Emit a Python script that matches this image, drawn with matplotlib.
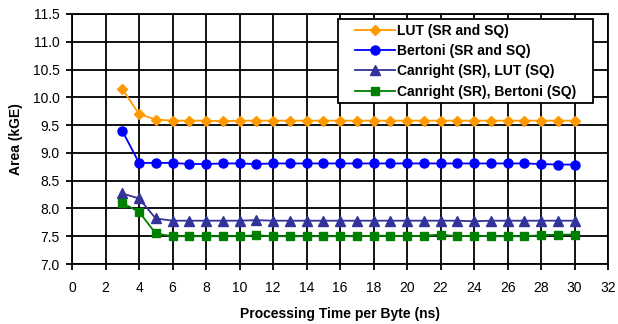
import matplotlib
matplotlib.use("Agg")
import matplotlib.pyplot as plt
from matplotlib.patches import Rectangle

plt.rcParams['font.family'] = ['Liberation Sans', 'DejaVu Sans']

# Processing time per byte (ns)
x = list(range(3, 31))

# Area (kGE) for each design
lut = [10.15, 9.70, 9.60, 9.58, 9.58, 9.58, 9.57, 9.58, 9.58, 9.58, 9.58, 9.58, 9.58, 9.58,
       9.58, 9.58, 9.58, 9.58, 9.58, 9.58, 9.58, 9.58, 9.58, 9.58, 9.58, 9.58, 9.58, 9.58]
bertoni = [9.40, 8.82, 8.82, 8.82, 8.80, 8.80, 8.81, 8.81, 8.80, 8.81, 8.81, 8.81, 8.81, 8.81,
           8.81, 8.81, 8.81, 8.81, 8.81, 8.81, 8.81, 8.81, 8.81, 8.81, 8.81, 8.80, 8.79, 8.79]
canr_lut = [8.27, 8.18, 7.82, 7.78, 7.78, 7.78, 7.78, 7.78, 7.79, 7.78, 7.78, 7.78, 7.78, 7.78,
            7.78, 7.78, 7.78, 7.78, 7.78, 7.78, 7.78, 7.77, 7.78, 7.78, 7.78, 7.78, 7.78, 7.78]
canr_bert = [8.10, 7.94, 7.55, 7.50, 7.50, 7.50, 7.50, 7.50, 7.52, 7.50, 7.50, 7.50, 7.50, 7.50,
             7.50, 7.51, 7.51, 7.50, 7.51, 7.53, 7.50, 7.51, 7.50, 7.50, 7.50, 7.52, 7.53, 7.53]

labels = ["LUT (SR and SQ)", "Bertoni (SR and SQ)",
          "Canright (SR), LUT (SQ)", "Canright (SR), Bertoni (SQ)"]

fig = plt.figure(figsize=(6.18, 3.24), dpi=100)
ax = fig.add_axes([0.1165, 0.185, 0.8675, 0.772])

ax.plot(x, lut, color="#FF9900", marker="D", markersize=5, linewidth=1.3, label=labels[0])
ax.plot(x, bertoni, color="#0000FF", marker="o", markersize=6.5, linewidth=1.3, label=labels[1])
ax.plot(x, canr_lut, color="#333399", marker="^", markersize=7, linewidth=1.3, label=labels[2])
ax.plot(x, canr_bert, color="#008000", marker="s", markersize=6, linewidth=1.3, label=labels[3])

ax.set_xlim(0, 32)
ax.set_ylim(7.0, 11.5)
ax.set_xticks(range(0, 33, 2))
ax.set_yticks([7.0 + 0.5 * i for i in range(10)])
ax.set_yticklabels([f"{7.0 + 0.5 * i:.1f}" for i in range(10)])
ax.grid(True, color="black", linewidth=1.3)
ax.set_axisbelow(True)
for s in ax.spines.values():
    s.set_linewidth(1.3)
ax.tick_params(labelsize=10, width=1.3, length=4, direction="out")
ax.tick_params(axis="x", pad=8)
ax.tick_params(axis="y", pad=5)

ax.set_xlabel("Processing Time per Byte (ns)", fontsize=10, fontweight="bold", labelpad=9)
ax.set_ylabel("Area (kGE)", fontsize=10, fontweight="bold", labelpad=7)

# legend without its own frame; a wider box is drawn behind it
leg = ax.legend(loc="upper right", bbox_to_anchor=(0.95, 0.98), frameon=False,
                prop={"weight": "bold", "size": 10},
                handlelength=2.9, borderpad=0.35, labelspacing=0.45, handletextpad=0.15,
                borderaxespad=0)
fig.canvas.draw()
bb = leg.get_window_extent().transformed(fig.transFigure.inverted())
dx = 12 / 618
ax.add_patch(Rectangle((bb.x0 - dx, bb.y0), bb.width + 2 * dx, bb.height,
                       transform=fig.transFigure, facecolor="white", edgecolor="black",
                       linewidth=1.3, zorder=4.9, clip_on=False))

fig.savefig("out.png", dpi=100)
